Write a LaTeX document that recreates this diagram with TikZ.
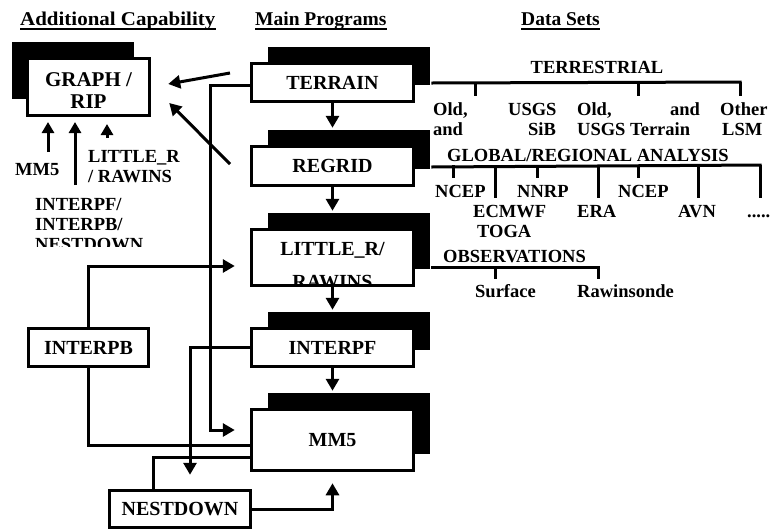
\documentclass[tikz,border=0pt]{standalone}
\usepackage{fontspec}
\usepackage{graphicx}
\setmainfont{Liberation Serif}
\usetikzlibrary{arrows.meta,shadows}
\begin{document}
\begin{tikzpicture}[x=1pt,y=-1pt,
  font=\bfseries\fontsize{20}{18}\selectfont,
  conn/.style={line width=3pt},
  arr/.style={line width=3pt,-{Triangle[length=12pt,width=13pt]}},
  thin arr/.style={line width=3pt,-{Triangle[length=11pt,width=12pt]}},
  mainbox/.style={draw,line width=3.5pt,fill=white,minimum width=162pt,inner sep=0pt,
    general shadow={fill=black,shadow xshift=16pt,shadow yshift=17pt}},
  sidebox/.style={draw,line width=3.5pt,fill=white,inner sep=0pt},
  lab/.style={anchor=base west,inner sep=0pt,font=\bfseries\fontsize{18.5}{20}\selectfont},
  head/.style={anchor=base west,inner sep=0pt,font=\bfseries\fontsize{19.5}{21}\selectfont},
  tick/.style={line width=3pt}]
\useasboundingbox[fill=white] (0,0) rectangle (776,531);

% headers
\node[head] (h1) at (20,25) {\scalebox{1.075}[1]{Additional Capability}};
\node[head] (h2) at (255,25) {Main Programs};
\node[head] (h3) at (521,25) {Data Sets};
\foreach \h in {h1,h2,h3}
  \draw[line width=2pt] ([yshift=-3.5pt]\h.base west) -- ([yshift=-3.5pt]\h.base east);

% main programs
\node[mainbox,minimum height=38pt] (ter) at (332.5,82.5) {TERRAIN};
\node[mainbox,minimum height=39pt] (reg) at (332.5,166) {REGRID};
\node[mainbox,minimum height=56pt] (lr) at (332.5,257.5) {};
\begin{scope}
  \clip ([shift={(1.8pt,-1.8pt)}]lr.north west) rectangle ([shift={(-1.8pt,2.5pt)}]lr.south east);
  \node[anchor=base,inner sep=0pt] (lrt1) at (332.5,255) {LITTLE\_R/};
  \node[anchor=base,inner sep=0pt] (lrt2) at (332.5,288) {RAWINS};
\end{scope}
\node[mainbox,minimum height=38pt] (ipf) at (332.5,347.5) {INTERPF};
\node[mainbox,minimum height=61pt] (mm5) at (332.5,440) {MM5};

% additional capability
\node[sidebox,minimum width=122pt,minimum height=57pt,
  general shadow={fill=black,shadow xshift=-16pt,shadow yshift=17pt}] (gr) at (88.5,87) {};
\node[anchor=base,inner sep=0pt,font=\bfseries\fontsize{21}{22}\selectfont] (grt1) at (88.5,86.5) {GRAPH /};
\node[anchor=base,inner sep=0pt,font=\bfseries\fontsize{21}{22}\selectfont] (grt2) at (88.5,108) {RIP};
\node[sidebox,minimum width=120pt,minimum height=38pt] (ipb) at (88.5,347.5) {INTERPB};
\node[sidebox,minimum width=141pt,minimum height=37pt] (nd) at (180,509) {NESTDOWN};

% labels under GRAPH/RIP
\node[lab] (lmm5) at (15,175) {MM5};
\node[lab] (llr1) at (88,162) {LITTLE\_R};
\node[lab] (llr2) at (88,182) {/ RAWINS};
\node[lab] (lip1) at (35,210) {INTERPF/};
\node[lab] (lip2) at (35,230) {INTERPB/};
\begin{scope}
  \clip (0,0) rectangle (240,246.5);
  \node[lab] (lip3) at (35,250) {NESTDOWN};
\end{scope}
\coordinate (g1s) at (48,152);
\coordinate (g2s) at (75,185);
\coordinate (g3s) at (107,138);
\draw[thin arr] (g1s) -- (g1s |- 0,122);
\draw[thin arr] (g2s) -- (g2s |- 0,122);
\draw[thin arr] (g3s) -- (g3s |- 0,124);

% arrows to GRAPH/RIP
\coordinate (t2g) at (230,73);
\coordinate (r2g) at (230,164);
\draw[arr] (t2g) -- ([shift={(17pt,3pt)}]gr.east);
\draw[arr] (r2g) -- ([shift={(18pt,-16pt)}]gr.east);

% main flow
\draw[arr] (ter.south) -- ([yshift=17pt]reg.north);
\draw[arr] (reg.south) -- ([yshift=17pt]lr.north);
\draw[arr] (lr.south) -- ([yshift=17pt]ipf.north);
\draw[arr] (ipf.south) -- ([yshift=17pt]mm5.north);

% TERRAIN -> MM5
\draw[arr] ([yshift=-2.5pt]ter.west) -- (210,85) |- ([shift={(-15pt,10pt)}]mm5.west);
% INTERPB
\draw[arr] (ipb.north) |- ([shift={(-15pt,-8.5pt)}]lr.west);
\draw[conn] (ipb.south) |- ([yshift=-5pt]mm5.west);
% INTERPF -> NESTDOWN
\draw[arr] (ipf.west) -| ([shift={(10pt,14pt)}]nd.north);
\draw[conn] ([yshift=-17pt]mm5.west) -| ([xshift=-27pt]nd.north);
% NESTDOWN -> MM5
\draw[arr] (nd.east) -| ([yshift=-11pt]mm5.south);

% data sets: terrestrial
\coordinate (tend) at (741.5,82);
\draw[conn] ([xshift=16pt,yshift=-0.5pt]ter.east) -- (tend);
\foreach \x in {475,638,740} \draw[tick] (\x,82) -- (\x,96);
\node[anchor=base,inner sep=0pt,font=\bfseries\fontsize{18.5}{20}\selectfont] (terr) at (597,73) {TERRESTRIAL};
\node[lab] at (433,115) {Old,};
\node[lab] at (508,115) {USGS};
\node[lab] at (577,115) {Old,};
\node[lab] at (670,115) {and};
\node[lab] at (720,115) {Other};
\node[lab] at (433,135) {and};
\node[lab] at (528,135) {SiB};
\node[lab] at (577,135) {USGS Terrain};
\node[lab] at (722,135) {LSM};

% data sets: global/regional analysis
\coordinate (gend) at (761.5,165);
\draw[conn] ([xshift=16pt,yshift=-1pt]reg.east) -- (gend);
\foreach \x in {453,537,638} \draw[tick] (\x,165) -- (\x,178);
\foreach \x in {495,598,698,760} \draw[tick] (\x,165) -- (\x,198);
\node[lab] at (447,161) {GLOBAL/REGIONAL ANALYSIS};
\node[lab] at (435,197) {NCEP};
\node[lab] at (517,197) {NNRP};
\node[lab] at (618,197) {NCEP};
\node[lab] at (473,217) {ECMWF};
\node[lab] at (577,217) {ERA};
\node[lab] at (678,217) {AVN};
\node[lab] at (747,217) {.....};
\node[lab] at (477,237) {TOGA};

% data sets: observations
\coordinate (oend) at (599.5,267);
\draw[conn] ([xshift=16pt,yshift=-9.5pt]lr.east) -- (oend);
\foreach \x in {495,598} \draw[tick] (\x,267) -- (\x,279);
\node[lab] at (443,262) {OBSERVATIONS};
\node[lab] at (475,297) {Surface};
\node[lab] at (577,297) {Rawinsonde};
\end{tikzpicture}
\end{document}
